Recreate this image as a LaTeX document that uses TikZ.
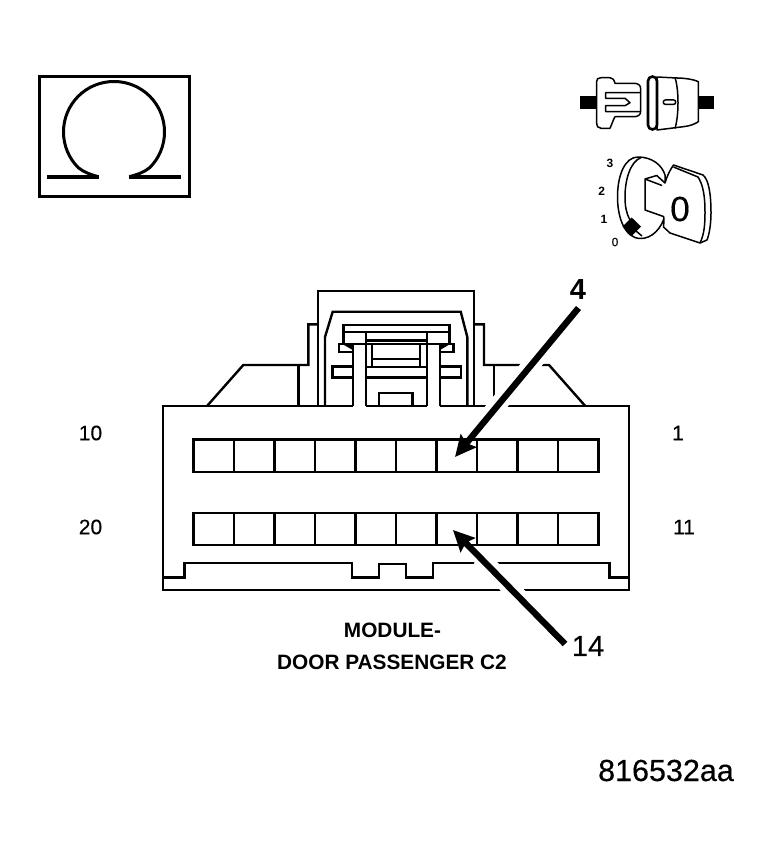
\documentclass[tikz,border=0pt]{standalone}
\usepackage{fontspec}
\setmainfont{Liberation Sans}
\newfontfamily\medf[FakeBold=0.25]{Liberation Sans}
\usetikzlibrary{arrows.meta}
\tikzset{
  ln/.style={draw=black,line width=2.4pt,line join=miter,fill=none},
  thick ln/.style={draw=black,line width=3pt},
  thin ln/.style={draw=black,line width=1.5pt,line join=round},
  halo/.style={draw=white,line width=17.5pt},
  pointer/.style={draw=black,line width=6.4pt,-{Stealth[length=21pt,width=20pt,inset=3pt]}},
  sm/.style={inner sep=0pt,font=\fontsize{21}{24}\selectfont\medf},
  cap lbl/.style={inner sep=0pt,font=\fontsize{20.8}{24}\selectfont\bfseries},
  big/.style={inner sep=0pt,font=\fontsize{29}{32}\selectfont\medf},
  tiny lbl/.style={inner sep=0pt,font=\fontsize{12}{14}\selectfont\bfseries},
}
\begin{document}
\begin{tikzpicture}[x=1pt,y=-1pt]
\useasboundingbox (0,0) rectangle (770,856);
% ohm box
\draw[draw=black,line width=3pt] (39,77) rectangle (189,196);
\draw[thick ln,line width=3.6pt] (47,176.7) -- (99,176.7);
\draw[thick ln,line width=3.6pt] (129,176.7) -- (181,176.7);
\draw[thick ln] (98.3,176.7) .. controls (92,175) and (84,172.5) .. (78.3,167.7) .. controls (68.8,158.2) and (63.5,145.4) .. (63.5,132) .. controls (63.5,104) and (86,81.5) .. (114,81.5) .. controls (142,81.5) and (164.5,104) .. (164.5,132) .. controls (164.5,145.4) and (159.2,158.2) .. (149.7,167.7) .. controls (144,172.5) and (136,175) .. (129.3,176.7);
% connector icon
\fill[black] (580,96) rectangle (596,109.3);
\fill[black] (698.3,96) rectangle (714,109.3);
\draw[thin ln,fill=white] (601,77.7) -- (610,77.7) .. controls (613,77.7) and (614,80) .. (615,83.3) -- (634,83.3) .. controls (638,83.3) and (640.7,85) .. (640.7,89) -- (640.7,111) .. controls (640.7,115) and (638,116.7) .. (634,116.7) -- (615,116.7) .. controls (613,120) and (612,124) .. (610,128.3) -- (601,128.3) .. controls (598,128.3) and (596.5,126) .. (596.5,123) -- (596.5,82) .. controls (596.5,79) and (598,77.7) .. (601,77.7) -- cycle;
\draw[thin ln] (640,92.7) -- (605.7,92.7) -- (605.7,98.3) -- (625,98.3) -- (630,102.7) -- (625,105.7) -- (605.7,105.7) -- (605.7,111.7) -- (640,111.7);
\draw[thin ln,fill=white] (657,77) -- (683.3,78.3) .. controls (690,79) and (695,80) .. (698.3,81.7) -- (698.3,121.7) .. controls (695,124) and (690,126) .. (683.3,126.7) -- (657,130) -- cycle;
\draw[thin ln] (675,77.5) .. controls (679,90) and (679,115) .. (675,128.5);
\draw[draw=black,line width=2.6pt,fill=white,rounded corners=4.5pt] (648,76.5) rectangle (657,129.5);
\draw[thin ln,rounded corners=2pt] (663.3,100) rectangle (675.7,104.3);
% key icon
\draw[thin ln,fill=white] (638,157) .. controls (625,157) and (617.5,175) .. (617.5,197) .. controls (617.5,218) and (625,238) .. (640,238.5) .. controls (652,239) and (662,228) .. (665,215) -- (665,175) .. controls (662,165) and (652,157) .. (638,157) -- cycle;
\draw[thin ln] (641,157.5) .. controls (630,162) and (625,180) .. (625,197) .. controls (625,205) and (626,213) .. (630,220);
\draw[thin ln,fill=white] (645,179) -- (656.7,175.5) -- (665,183) .. controls (667,176) and (670,170) .. (673.5,165) -- (703,175) .. controls (709,180) and (711,195) .. (711,213) .. controls (711,225) and (709,235) .. (707,240) -- (700,243) -- (670,233) -- (663.5,227) .. controls (664,222) and (664,217) .. (663.5,216.5) -- (645,210) -- cycle;
\draw[thin ln] (645,179) -- (662,185.5);
\draw[thin ln] (673.5,167) -- (698,177) .. controls (703,185) and (705,195) .. (705,213) .. controls (705,225) and (704,235) .. (700,243);
\fill[black] (631.7,217.5) -- (641,226.5) -- (631.7,236) -- (622.5,226.5) -- cycle;
\draw[thin ln] (636,231) -- (642,236);
\node[tiny lbl] (n3) at (610,163.5) {3};
\node[tiny lbl] (n2) at (601.7,191) {2};
\node[tiny lbl] (n1) at (604,219) {1};
\node[inner sep=0pt,font=\fontsize{12}{14}\selectfont\medf] (n0) at (615,242) {0};
\node[inner sep=0pt,font=\fontsize{35}{38}\selectfont\medf] (keyzero) at (680,209) {0};
% connector back
\draw[ln] (318,405.7) -- (318,291) -- (474,291) -- (474,405.7);
\draw[ln] (325,405.7) -- (325,337) -- (332.7,311.7) -- (460.7,311.7) -- (467.3,337) -- (467.3,405.7);
\draw[ln] (318,324.3) -- (308.3,324.3) -- (308.3,365) -- (243.3,365) -- (207.3,405.7);
\draw[ln] (298.3,365) -- (298.3,405.7);
\draw[ln] (474,324.3) -- (484,324.3) -- (484,365) -- (549,365) -- (585,405.7);
\draw[ln] (494,365) -- (494,405.7);
% centre latch
\draw[ln] (343.3,325) rectangle (449.3,344);
\draw[ln] (343.3,332) -- (449.3,332);
\draw[ln] (366,332) -- (366,344);
\draw[ln] (426.7,332) -- (426.7,344);
\draw[ln] (366,340.5) -- (426.7,340.5);
\draw[ln] (352.7,344) -- (339,344) -- (339,351.7) -- (352.7,351.7);
\draw[ln] (440,344) -- (453.3,344) -- (453.3,351.7) -- (440,351.7);
\fill[black] (344,345) -- (352.7,345) -- (352.7,350) -- cycle;
\fill[black] (448.5,345) -- (440,345) -- (440,350) -- cycle;
\draw[ln] (352.7,344) -- (352.7,405.7);
\draw[ln] (366,344) -- (366,405.7);
\draw[ln] (426.7,344) -- (426.7,405.7);
\draw[ln] (440,344) -- (440,405.7);
\draw[ln] (372,344) -- (372,366);
\draw[ln] (420,344) -- (420,366);
\draw[ln] (372,359) -- (420,359);
\draw[ln] (366,367) -- (426.7,367);
\draw[ln] (366,377.5) -- (426.7,377.5);
\draw[ln] (352.7,366.5) -- (332.3,366.5) -- (332.3,377.5) -- (352.7,377.5);
\draw[ln] (440,366.5) -- (460.7,366.5) -- (460.7,377.5) -- (440,377.5);
\draw[ln] (379,405.7) -- (379,392.7) -- (412.3,392.7) -- (412.3,405.7);
% housing
\draw[ln] (352.7,405.7) -- (163,405.7) -- (163,590) -- (629,590) -- (629,405.7) -- (440,405.7);
\draw[ln] (366,405.7) -- (426.7,405.7);
% slot row outlines
\foreach \ya/\yb in {439.5/472,512.7/545}{
  \draw[ln] (193.5,\ya) rectangle (598.3,\yb);
  \foreach \i in {1,...,9}{
    \draw[ln] ({193.5+\i*40.48},\ya) -- ({193.5+\i*40.48},\yb);
  }
}
% lower keyway
\draw[ln] (163,577.3) -- (184.3,577.3) -- (184.3,562.7) -- (351.7,562.7) -- (351.7,577.3) -- (379,577.3) -- (379,564) -- (405.7,564) -- (405.7,577.3) -- (432.7,577.3) -- (432.7,562.7) -- (609.3,562.7) -- (609.3,577.3) -- (629,577.3);
% pointers
\coordinate (fourtail) at (578.5,308);
\coordinate (fourtip) at (455,457);
\coordinate (fourhalo) at (476,431);
\coordinate (ftail) at (565,644);
\coordinate (ftip) at (453,530);
\coordinate (fhalo) at (480,557);
\draw[halo] (fourtail) -- (fourhalo);
\draw[halo] (ftail) -- (fhalo);
\draw[pointer] (fourtail) -- (fourtip);
\draw[pointer] (ftail) -- (ftip);
% labels
\node[big,font=\fontsize{29}{32}\selectfont\bfseries] (lfour) at (578,290) {4};
\node[big] (lfourteen) at (588,646) {14};
\node[sm] (l10) at (90.5,433) {10};
\node[sm] (l1) at (678,433) {1};
\node[sm] (l20) at (90.5,527) {20};
\node[sm] (l11) at (684,527) {11};
\node[cap lbl] (title1) at (392.5,630) {MODULE-};
\node[cap lbl] (title2) at (392,662.5) {DOOR PASSENGER C2};
\node[inner sep=0pt,font=\fontsize{30.5}{34}\selectfont\medf] (code) at (666,770.5) {816532aa};
\end{tikzpicture}
\end{document}
